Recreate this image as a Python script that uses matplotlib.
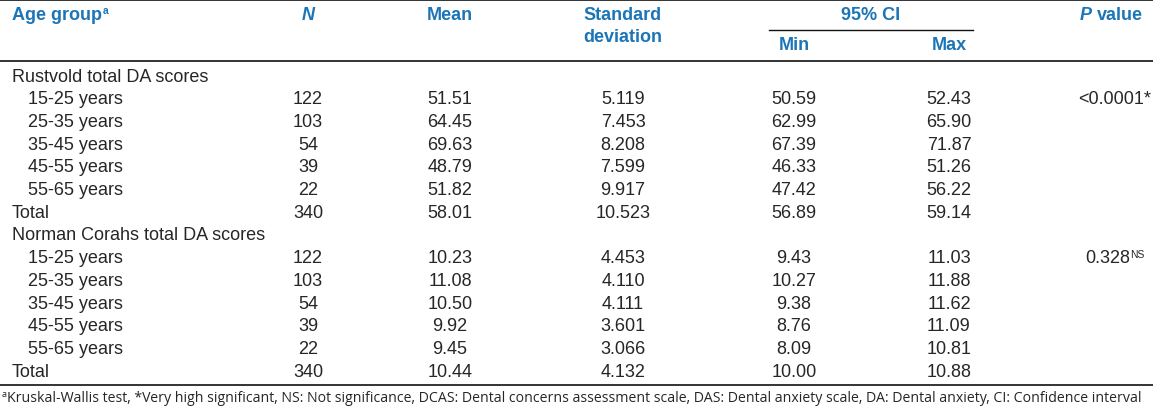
import matplotlib
matplotlib.use("Agg")
import matplotlib.pyplot as plt
from matplotlib import font_manager as fm

# ---- data ----
groups = ["15-25 years", "25-35 years", "35-45 years", "45-55 years", "55-65 years"]
sections = ["Rustvold total DA scores", "Norman Corahs total DA scores"]

rust_n = ["122", "103", "54", "39", "22", "340"]
rust_mean = ["51.51", "64.45", "69.63", "48.79", "51.82", "58.01"]
rust_sd = ["5.119", "7.453", "8.208", "7.599", "9.917", "10.523"]
rust_min = ["50.59", "62.99", "67.39", "46.33", "47.42", "56.89"]
rust_max = ["52.43", "65.90", "71.87", "51.26", "56.22", "59.14"]
rust_p = "<0.0001*"

norm_n = ["122", "103", "54", "39", "22", "340"]
norm_mean = ["10.23", "11.08", "10.50", "9.92", "9.45", "10.44"]
norm_sd = ["4.453", "4.110", "4.111", "3.601", "3.066", "4.132"]
norm_min = ["9.43", "10.27", "9.38", "8.76", "8.09", "10.00"]
norm_max = ["11.03", "11.88", "11.62", "11.09", "10.81", "10.88"]
norm_p = "0.328"

footnote = ("Kruskal-Wallis test, *Very high significant, NS: Not significance, "
            "DCAS: Dental concerns assessment scale, DAS: Dental anxiety scale, "
            "DA: Dental anxiety, CI: Confidence interval")

# ---- fonts ----
def find_font(name, fallback):
    for f in fm.findSystemFonts():
        if f.endswith(name):
            return fm.FontProperties(fname=f)
    return fm.FontProperties(family=fallback)

REG = find_font("LiberationSans-Regular.ttf", "DejaVu Sans")
BOLD = find_font("LiberationSans-Bold.ttf", "DejaVu Sans")
BOLDIT = find_font("LiberationSans-BoldItalic.ttf", "DejaVu Sans")
FOOT = find_font("OpenSans-Regular.ttf", "DejaVu Sans")

# ---- layout ----
W, H = 1153, 410
fig = plt.figure(figsize=(W / 100, H / 100), dpi=100)
ax = fig.add_axes([0, 0, 1, 1])
ax.set_xlim(0, W)
ax.set_ylim(H, 0)
ax.axis("off")

BLUE = "#1b75b6"
TXT = "#262626"
FS = 13.0

col_x = {"N": 308, "mean": 450, "sd": 623, "min": 794, "max": 949, "p": 1114}

fig.canvas.draw()
renderer = fig.canvas.get_renderer()

def right_edge(t):
    bb = t.get_window_extent(renderer=renderer)
    return bb.x1  # pixels == data x since axes spans figure

def T(x, y, s, fp, color, size, ha="left"):
    return ax.text(x, y, s, ha=ha, va="center", color=color, fontproperties=fp, fontsize=size)

# header
t = T(12, 15, "Age group", BOLD, BLUE, FS)
T(right_edge(t) + 1, 11, "a", BOLD, BLUE, 7.5)
T(col_x["N"], 15, "N", BOLDIT, BLUE, FS, "center")
T(col_x["mean"], 15, "Mean", BOLD, BLUE, FS, "center")
T(col_x["sd"], 15, "Standard", BOLD, BLUE, FS, "center")
T(col_x["sd"], 37, "deviation", BOLD, BLUE, FS, "center")
T(871, 15, "95% CI", BOLD, BLUE, FS, "center")
T(col_x["min"], 46, "Min", BOLD, BLUE, FS, "center")
T(col_x["max"], 46, "Max", BOLD, BLUE, FS, "center")
t = T(1080, 15, "P", BOLDIT, BLUE, FS)
T(right_edge(t) + 5, 15, "value", BOLD, BLUE, FS)

# rules
ax.plot([0, W], [1, 1], color="#111111", lw=1.2)
ax.plot([0, W], [62, 62], color="#111111", lw=1.2)
ax.plot([769, 973], [31, 31], color="#111111", lw=1.0)
ax.plot([0, W], [386, 386], color="#111111", lw=1.2)

def draw_section(y0, title, n, mean, sd, mn, mx, pval, pnote):
    T(12, y0, title, REG, TXT, FS)
    labels = groups + ["Total"]
    for i, lab in enumerate(labels):
        y = y0 + 22.7 * (i + 1)
        T(28 if lab != "Total" else 12, y, lab, REG, TXT, FS)
        T(col_x["N"], y, n[i], REG, TXT, FS, "center")
        T(col_x["mean"], y, mean[i], REG, TXT, FS, "center")
        T(col_x["sd"], y, sd[i], REG, TXT, FS, "center")
        T(col_x["min"], y, mn[i], REG, TXT, FS, "center")
        T(col_x["max"], y, mx[i], REG, TXT, FS, "center")
    yp = y0 + 22.7
    if pnote:
        t = T(1085, yp, pval, REG, TXT, FS)
        T(right_edge(t), yp - 4, pnote, REG, TXT, 7.5)
    else:
        T(1151, yp, pval, REG, TXT, FS, "right")

draw_section(77, sections[0], rust_n, rust_mean, rust_sd, rust_min, rust_max, rust_p, None)
draw_section(236, sections[1], norm_n, norm_mean, norm_sd, norm_min, norm_max, norm_p, "NS")

T(2, 395, "a", FOOT, TXT, 6.5)
T(7, 399, footnote, FOOT, TXT, 10.2)

fig.savefig("out.png", dpi=100)
